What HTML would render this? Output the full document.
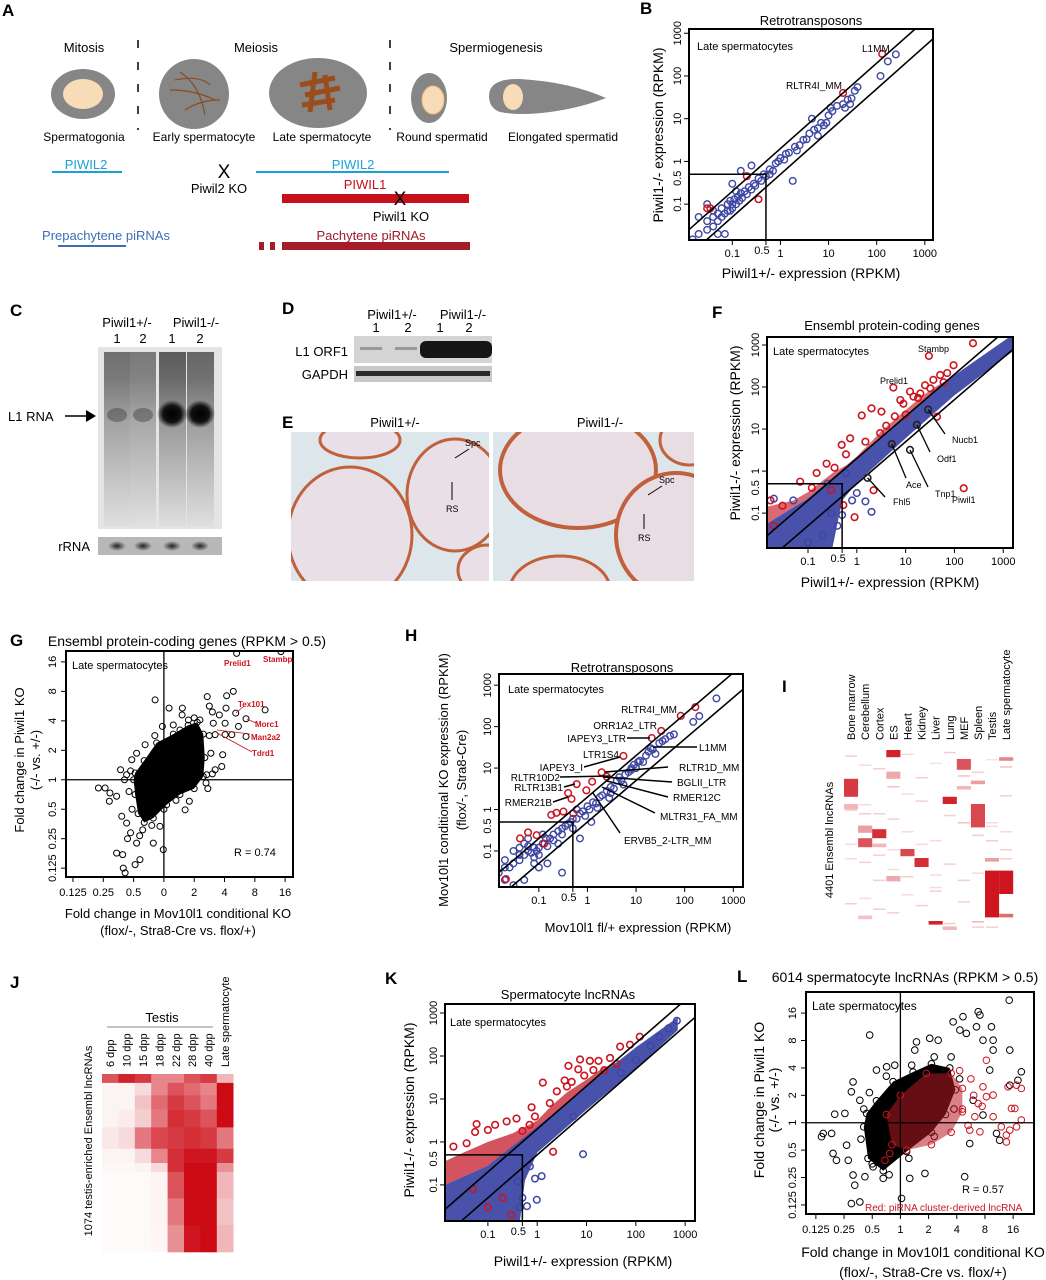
<!DOCTYPE html>
<html><head><meta charset="utf-8"><style>
html,body{margin:0;padding:0;background:#fff;}
svg{display:block;font-family:"Liberation Sans",Arial,sans-serif;}
</style></head><body>
<svg id="fig" xmlns="http://www.w3.org/2000/svg" width="1046" height="1280" viewBox="0 0 1046 1280">
<defs>
<linearGradient id="laneG" x1="0" y1="0" x2="0" y2="1">
<stop offset="0" stop-color="#222"/><stop offset="0.15" stop-color="#333"/><stop offset="0.4" stop-color="#777"/><stop offset="0.7" stop-color="#aaa"/><stop offset="1" stop-color="#ddd"/></linearGradient>
<radialGradient id="bandG"><stop offset="0" stop-color="#000"/><stop offset="0.6" stop-color="#111"/><stop offset="1" stop-color="#111" stop-opacity="0"/></radialGradient>
<radialGradient id="rrnaG"><stop offset="0" stop-color="#222"/><stop offset="1" stop-color="#222" stop-opacity="0"/></radialGradient>
<clipPath id="eL"><rect x="291" y="432" width="198" height="149"/></clipPath>
<clipPath id="eR"><rect x="493" y="432" width="201" height="149"/></clipPath>
</defs>

<!-- Panel A -->
<g font-size="13">
<text x="2" y="16" font-size="17" font-weight="bold">A</text>
<text x="84" y="52" text-anchor="middle">Mitosis</text>
<text x="256" y="52" text-anchor="middle">Meiosis</text>
<text x="496" y="52" text-anchor="middle">Spermiogenesis</text>
<line x1="138" y1="40" x2="138" y2="130" stroke="#000" stroke-width="1.5" stroke-dasharray="8,14"/>
<line x1="390" y1="40" x2="390" y2="130" stroke="#000" stroke-width="1.5" stroke-dasharray="8,14"/>
<g><ellipse cx="83" cy="94" rx="32" ry="25" fill="#868686"/><ellipse cx="83" cy="94" rx="20" ry="15" fill="#f8dcb8"/></g>
<g><ellipse cx="194" cy="94" rx="35" ry="35" fill="#868686"/>
<path d="M180 72 Q200 85 205 115 M170 90 Q195 90 215 100 M185 110 Q200 100 220 100 M175 80 Q200 75 210 85" stroke="#8b4a1e" stroke-width="1.2" fill="none"/></g>
<g><ellipse cx="318" cy="93" rx="49" ry="35" fill="#868686"/>
<path d="M300 85 L335 78 M305 95 L340 88 M315 72 L310 112 M325 75 L330 110 M302 105 L335 100" stroke="#9a4d1a" stroke-width="5" fill="none"/></g>
<g><ellipse cx="429" cy="98" rx="18" ry="25" fill="#868686"/><ellipse cx="433" cy="100" rx="11" ry="14" fill="#f8dcb8" stroke="#e9b97a"/></g>
<g><path d="M489 96 Q489 78 520 79 Q570 82 606 98 Q580 108 550 112 Q520 116 500 112 Q489 108 489 96 Z" fill="#868686"/><ellipse cx="513" cy="97" rx="10" ry="13" fill="#f8dcb8"/></g>
<text x="84" y="141" text-anchor="middle" font-size="12">Spermatogonia</text>
<text x="204" y="141" text-anchor="middle" font-size="12">Early spermatocyte</text>
<text x="322" y="141" text-anchor="middle" font-size="12">Late spermatocyte</text>
<text x="442" y="141" text-anchor="middle" font-size="12">Round spermatid</text>
<text x="563" y="141" text-anchor="middle" font-size="12">Elongated spermatid</text>
<text x="86" y="169" text-anchor="middle" fill="#1ba0d8">PIWIL2</text>
<line x1="52" y1="172" x2="122" y2="172" stroke="#1ba0d8" stroke-width="2"/>
<text x="224" y="178" text-anchor="middle" font-size="19">X</text>
<text x="219" y="193" text-anchor="middle">Piwil2 KO</text>
<text x="353" y="169" text-anchor="middle" fill="#1ba0d8">PIWIL2</text>
<line x1="256" y1="172" x2="449" y2="172" stroke="#1ba0d8" stroke-width="2"/>
<text x="365" y="189" text-anchor="middle" fill="#c8101a">PIWIL1</text>
<rect x="282" y="194" width="187" height="9" fill="#c8101a"/>
<text x="400" y="205" text-anchor="middle" font-size="19">X</text>
<text x="401" y="221" text-anchor="middle">Piwil1 KO</text>
<text x="106" y="240" text-anchor="middle" fill="#3c6eb4">Prepachytene piRNAs</text>
<line x1="58" y1="246" x2="126" y2="246" stroke="#3c6eb4" stroke-width="2"/>
<text x="371" y="240" text-anchor="middle" fill="#a01a28">Pachytene piRNAs</text>
<rect x="259" y="242" width="5" height="8" fill="#a51c2a"/>
<rect x="270" y="242" width="5" height="8" fill="#a51c2a"/>
<rect x="282" y="242" width="188" height="8" fill="#a51c2a"/>
</g>

<!-- Panel C -->
<g>
<text x="10" y="316" font-size="17" font-weight="bold">C</text>
<text x="127" y="327" text-anchor="middle" font-size="13">Piwil1+/-</text>
<text x="196" y="327" text-anchor="middle" font-size="13">Piwil1-/-</text>
<text x="117" y="343" text-anchor="middle" font-size="13">1</text>
<text x="143" y="343" text-anchor="middle" font-size="13">2</text>
<text x="172" y="343" text-anchor="middle" font-size="13">1</text>
<text x="200" y="343" text-anchor="middle" font-size="13">2</text>
<g>
<rect x="98" y="347" width="124" height="182" fill="#e4e4e4"/>
<rect x="104" y="352" width="26" height="175" fill="url(#laneG)" opacity="0.6"/>
<rect x="130" y="352" width="26" height="175" fill="url(#laneG)" opacity="0.55"/>
<rect x="159" y="352" width="27" height="175" fill="url(#laneG)" opacity="0.7"/>
<rect x="187" y="352" width="27" height="175" fill="url(#laneG)" opacity="0.65"/>
<ellipse cx="117" cy="415" rx="10" ry="7" fill="#333" opacity="0.4"/>
<ellipse cx="143" cy="415" rx="10" ry="7" fill="#333" opacity="0.4"/>
<ellipse cx="172" cy="414" rx="15" ry="14" fill="url(#bandG)"/>
<ellipse cx="200" cy="414" rx="15" ry="14" fill="url(#bandG)"/>
</g>
<text x="8" y="421" font-size="13">L1 RNA</text>
<line x1="65" y1="416" x2="86" y2="416" stroke="#000" stroke-width="1.5"/>
<polygon points="86,410 96,416 86,422" fill="#000"/>
<g>
<rect x="98" y="537" width="124" height="18" fill="#b8b8b8"/>
<ellipse cx="117" cy="546" rx="9" ry="5" fill="url(#rrnaG)"/><ellipse cx="143" cy="546" rx="9" ry="5" fill="url(#rrnaG)"/>
<ellipse cx="172" cy="546" rx="9" ry="5" fill="url(#rrnaG)"/><ellipse cx="200" cy="546" rx="9" ry="5" fill="url(#rrnaG)"/>
</g>
<text x="90" y="551" text-anchor="end" font-size="13">rRNA</text>
</g>

<!-- Panel D -->
<g font-size="13">
<text x="282" y="314" font-size="17" font-weight="bold">D</text>
<text x="392" y="319" text-anchor="middle">Piwil1+/-</text>
<text x="463" y="319" text-anchor="middle">Piwil1-/-</text>
<text x="376" y="332" text-anchor="middle">1</text>
<text x="408" y="332" text-anchor="middle">2</text>
<text x="440" y="332" text-anchor="middle">1</text>
<text x="469" y="332" text-anchor="middle">2</text>
<g><rect x="354" y="336" width="138" height="27" fill="#d4d4d4"/>
<rect x="420" y="341" width="72" height="17" rx="6" fill="#151515"/>
<rect x="360" y="347" width="22" height="3" fill="#999"/><rect x="395" y="347" width="22" height="3" fill="#999"/></g>
<g><rect x="354" y="366" width="138" height="16" fill="#c8c8c8"/><rect x="356" y="371" width="134" height="5" fill="#2a2a2a"/></g>
<text x="348" y="356" text-anchor="end">L1 ORF1</text>
<text x="348" y="379" text-anchor="end">GAPDH</text>
</g>

<!-- Panel E -->
<g>
<text x="282" y="428" font-size="17" font-weight="bold">E</text>
<text x="395" y="427" text-anchor="middle" font-size="13">Piwil1+/-</text>
<text x="600" y="427" text-anchor="middle" font-size="13">Piwil1-/-</text>
<g clip-path="url(#eL)">
<rect x="291" y="432" width="198" height="149" fill="#dde6ea"/>
<ellipse cx="350" cy="535" rx="62" ry="68" fill="#e8e0e6" stroke="#c0603c" stroke-width="3"/>
<ellipse cx="360" cy="440" rx="40" ry="18" fill="#e8e0e6" stroke="#c0603c" stroke-width="3"/>
<ellipse cx="455" cy="495" rx="48" ry="56" fill="#e8e0e6" stroke="#c0603c" stroke-width="3"/>
<ellipse cx="488" cy="570" rx="30" ry="25" fill="#e8e0e6" stroke="#c0603c" stroke-width="3"/>
</g>
<g clip-path="url(#eR)">
<rect x="493" y="432" width="201" height="149" fill="#dde6ea"/>
<ellipse cx="578" cy="470" rx="78" ry="58" fill="#e9dde4" stroke="#c0603c" stroke-width="4"/>
<ellipse cx="676" cy="535" rx="60" ry="62" fill="#e9dde4" stroke="#c0603c" stroke-width="4"/>
<ellipse cx="560" cy="590" rx="50" ry="34" fill="#e9dde4" stroke="#c0603c" stroke-width="3"/>
<ellipse cx="690" cy="440" rx="30" ry="25" fill="#e9dde4" stroke="#c0603c" stroke-width="3"/>
</g>
<g font-size="9">
<text x="465" y="446">Spc</text><line x1="469" y1="449" x2="455" y2="458" stroke="#000"/>
<line x1="452" y1="482" x2="452" y2="500" stroke="#000"/><text x="446" y="512">RS</text>
<text x="659" y="483">Spc</text><line x1="662" y1="486" x2="648" y2="495" stroke="#000"/>
<line x1="644" y1="514" x2="644" y2="529" stroke="#000"/><text x="638" y="541">RS</text>
</g>
</g>

<g id="charts"></g>
</svg>

<script>
const NS='http://www.w3.org/2000/svg';
const root=document.getElementById('charts');
function mk(tag,parent,attrs){const e=document.createElementNS(NS,tag);for(const k in attrs)e.setAttribute(k,attrs[k]);parent.appendChild(e);return e;}
function txt(parent,x,y,s,attrs){const t=mk('text',parent,Object.assign({x:x,y:y},attrs||{}));t.textContent=s;return t;}

/* ===== DATA ===== */
// Panel B (RPKM)
const bBlueX=[0.015,0.02,0.03,0.03,0.04,0.04,0.05,0.05,0.06,0.06,0.07,0.08,0.08,0.09,0.1,0.1,0.11,0.12,0.13,0.14,0.15,0.16,0.18,0.2,0.22,0.25,0.28,0.3,0.35,0.4,0.45,0.5,0.6,0.7,0.8,0.9,1,1.2,1.5,1.8,2,2.5,3,3.5,4,4.5,5,6,7,8,10,11,12,20,22,25,30,35,40,120,170,250,0.03,0.1,0.15,0.05,0.07,0.02,0.04,0.09,0.12,0.25,0.6,1.3,2.2,6,9,15,28];
const bBlueY=[0.015,0.02,0.025,0.04,0.03,0.05,0.04,0.06,0.05,0.08,0.06,0.1,0.07,0.12,0.08,0.1,0.13,0.1,0.15,0.12,0.18,0.14,0.2,0.17,0.25,0.22,0.3,0.27,0.4,0.35,0.5,0.45,0.65,0.6,0.9,1.0,1.2,1.1,1.6,0.35,2.2,2.4,3.2,3.3,4.5,10,5.5,6,8,7,12,18,15,22,18,28,30,45,55,100,220,320,0.1,0.3,0.6,0.02,0.02,0.05,0.07,0.07,0.2,0.8,0.5,1.5,1.8,4,8,20,22];
const bRedX=[0.2,0.35,0.03,0.035,20,130];
const bRedY=[0.45,0.13,0.08,0.08,40,330];

// Panel F
const fBandX=[-1.84,-1,0,1,2,3.2,3.2,2,1,0,-0.3,-0.5,-1.84];
const fBandY=[-1.25,-0.65,0.32,1.3,2.28,3.25,2.85,1.8,0.78,-0.28,-0.7,-1.83,-1.83];
const fRedCloudX=[-1.84,-1.3,-1,-0.5,-0.2,0,0.3,0.5,0.8,1,1.3,1.6,1.9,2.0,1,0,-1,-1.84];
const fRedCloudY=[-0.85,-0.7,-0.5,-0.05,0.15,0.35,0.7,0.95,1.25,1.45,1.75,2.0,2.2,2.2,1.25,0.3,-0.65,-1.25];
const fRedX=[96,71,51,37,32,12.3,14.5,7.8,3.2,2,1.26,0.73,0.49,0.24,0.069,0.017,0.53,2.2,44,30,5.6,155,240,0.03,0.02,0.15,0.3,0.9,20,25,9,10,4,3,1.5,0.6,0.35,0.12,60,18,6];
const fRedY=[330,215,193,148,93,78,59,49,26,31,21,6,4.2,1.5,0.56,0.2,0.155,0.35,19.6,550,97,0.39,1100,0.15,0.05,0.9,0.35,0.08,70,110,40,22,12,8,5,2.5,1.2,0.4,130,55,20];
const fBlueX=[2,1.5,0.5,0.3,0.2,0.8,0.05,0.02,0.4,1,0.1,0.6,0.25];
const fBlueY=[0.107,0.19,0.09,0.1,0.03,0.2,0.2,0.22,0.05,0.3,0.02,0.9,0.5];
const fGeneNames=['Nucb1','Odf1','Ace','Tnp1','Fhl5'];
const fGeneX=[29,17,5.2,12.3,1.66];
const fGeneY=[29,12.6,4.4,3.2,0.69];

// Panel H
const hBlueX=[0.015,0.02,0.02,0.025,0.03,0.03,0.04,0.04,0.05,0.05,0.06,0.06,0.07,0.08,0.08,0.09,0.1,0.1,0.12,0.12,0.14,0.15,0.17,0.2,0.2,0.25,0.3,0.3,0.35,0.4,0.45,0.5,0.6,0.7,0.8,1,1.1,1.3,1.5,1.8,2,2.5,3,3.5,4,5,6,7,8,9,10,12,14,16,18,20,25,30,40,50,60,150,200,450,0.3,0.03,0.05,0.1,0.15,0.7,1.2,0.6,3,4.5,8,11,22,35,0.02,0.04,0.06,0.08,0.25,0.5,0.9,1.6,2.8,5.5];
const hBlueY=[0.03,0.02,0.06,0.04,0.05,0.1,0.06,0.12,0.08,0.15,0.1,0.2,0.09,0.12,0.07,0.1,0.12,0.08,0.15,0.25,0.2,0.13,0.2,0.25,0.18,0.3,0.35,0.25,0.4,0.45,0.5,0.6,0.6,0.8,0.9,1.2,1.0,1.5,1.4,2,2.2,2.8,3.5,3.2,5,5,7,8,9,12,10,15,14,20,25,30,22,40,50,60,65,130,180,480,0.03,0.015,0.02,0.04,0.05,0.2,0.5,1.0,2.5,6,10,14,28,45,0.04,0.08,0.13,0.05,0.15,0.35,0.7,1.1,1.9,4];
const hRedX=[83,166,33,21,5.5,1.95,2.5,0.6,0.4,0.47,1.25,0.95,0.041,0.06,0.09,0.13,0.18,0.32,0.51,0.021,0.23];
const hRedY=[182,295,79,53,19.6,7.9,6.2,4.1,2.5,1.8,4.7,2.9,0.2,0.28,0.24,0.15,0.74,0.89,0.81,0.021,0.83];

// Panel K
const kBandX=[-1.87,-1,0,1,2,2.85,2.85,2,1,0,-0.25,-0.35,-1.87];
const kBandY=[-1.0,-0.55,0.35,1.3,2.2,2.9,2.6,1.7,0.75,-0.25,-0.9,-1.84,-1.84];
const kRedCloudX=[-1.87,-1.5,-1,-0.5,0,0.3,0.6,1,1.3,1.6,1.9,2,1,0,-1,-1.87];
const kRedCloudY=[-0.45,-0.25,0.0,0.2,0.5,0.85,1.15,1.45,1.7,1.85,2.05,2.1,1.2,0.3,-0.55,-1.0];
const kRedX=[120,76,48,17.5,11.7,7.4,4.3,6.8,13.8,1.3,3.6,4,2.5,0.77,0.9,0.38,0.24,0.14,0.1,0.059,0.055,0.037,0.02,2.1,23,41,0.3,0.2,0.1,0.05,0.7,1.8,5,9,0.5,30];
const kRedY=[280,183,165,77,77,83,59,49,47,24,27,19.5,15,6.4,3.9,3.5,3,2.5,1.9,2.6,1.7,0.93,0.78,0.59,47,65,0.02,0.05,0.03,0.08,2.5,8,25,35,1.8,90];
const kBlueX=[8.5,680,460,0.98,1.23,0.9,0.62,5.4,0.71,300,200,0.5,0.4,0.45,100,50];
const kBlueY=[0.52,660,440,0.045,0.16,0.14,0.032,3.9,0.27,280,170,0.05,0.12,0.03,80,40];

// Panel G (log2 fold change)
const gCoreX=[-1.0,-0.95,-0.85,-0.65,-0.35,0.09,0.53,1.0,1.3,1.35,1.3,1.1,0.8,0.31,-0.24,-0.65,-0.95];
const gCoreY=[0.0,-0.5,-1.15,-1.45,-1.3,-0.85,-0.5,-0.3,0.11,0.75,1.55,1.95,1.85,1.55,1.25,0.65,0.23];
const gX=[-2.16,-1.94,-1.78,-1.56,-1.8,-1.43,-1.23,-1.39,-1.23,-1.56,-1.36,-1.34,-1.28,-0.95,-0.79,-0.9,-0.35,-0.02,-0.13,-0.29,0.17,0.61,-0.05,-0.62,-1.06,0.7,0.84,1.43,2.07,2.29,3.34,2.71,2.37,2.05,1.83,1.63,2.02,2.46,2.71,2.24,2.02,1.69,1.94,1.69,1.91,1.41,1.39,1.19,0.81,0.31,0.53,-1.1,-1.2,-0.8,1.5,1.6,-1.15,-1.1,-1.05,-0.7,-0.4,0.0,0.4,1.6,1.55,1.5,1.45,1.0,0.6,-0.3,-0.9,-1.3];
const gY=[-0.28,-0.28,-0.45,-0.56,-0.73,0.34,0.17,-1.24,-1.47,-2.49,-2.54,-3.0,-3.16,-2.88,-2.71,-2.15,-2.15,-2.37,-1.58,2.71,2.43,2.43,1.81,1.19,0.68,-1.02,-0.73,2.82,2.85,3.0,2.37,2.07,2.26,2.43,2.2,1.92,1.92,1.81,1.47,1.53,1.53,1.53,0.85,0.34,0.45,0.17,-0.11,2.03,2.03,1.86,1.69,-1.8,-2.0,-1.9,2.5,2.3,-0.4,0.3,-1.0,-1.7,-1.55,-1.0,-0.7,0.2,0.9,1.5,-0.3,2.1,2.2,1.5,0.9,0.0];
const gRedNames=['Prelid1','Stambp'];
const gRedX=[2.4,3.86];
const gRedY=[4.29,4.35];

// Panel L
const lCoreX=[-1.3,-1.15,-0.61,0.22,1.1,1.6,1.95,1.75,1.1,0.45,-0.26,-0.85,-1.2];
const lCoreY=[-0.15,-1.3,-1.75,-1.05,-0.35,0.3,1.2,2.0,2.15,1.85,1.5,0.8,0.34];
const lRedCoreX=[-0.5,-0.3,0.22,1.1,1.8,2.2,2.2,1.8,0.92,0.0];
const lRedCoreY=[0.3,-0.8,-1.0,-0.8,-0.35,0.4,1.25,1.8,1.8,1.0];
const lBlackX=[3.86,2.76,2.82,1.87,2.22,2.7,3.23,2.11,2.34,2.93,3.29,3.88,3.29,-1.09,0.57,0.51,1.04,1.34,3.17,4.29,4.17,3.88,2.58,2.93,3.41,3.52,2.46,2.28,0.04,0.33,0.87,-0.61,-1.26,-1.68,-1.74,-1.44,-2.74,-2.8,-2.44,-2.39,-2.27,-1.91,-1.97,-1.68,-1.74,-1.44,-2.33,-0.85,-0.49,-0.2,-1.62,-1.85,-0.97,-1.4,-1.3,-1.0,-0.4,0.3,1.2,1.9,2.1,1.8,1.2,0.4,-0.5,-1.1];
const lBlackY=[4.47,4.05,3.93,3.68,3.87,3.5,3.5,3.38,3.26,3.01,3.01,2.65,2.65,3.2,2.95,2.65,3.08,3.01,1.92,1.86,1.55,1.37,0.82,0.28,-0.39,-0.64,-0.76,-1.97,-2.76,-2.03,-1.85,-2.03,-1.97,-1.91,-2.95,-2.89,-0.39,-0.51,-0.39,-1.12,-1.37,-0.82,0.34,1.49,1.13,0.82,0.31,1.92,2.04,2.1,-2.28,-1.37,-1.61,-0.6,0.5,-1.5,-1.9,-1.3,-0.5,0.5,1.6,2.4,2.4,2.1,1.7,1.1];
const lRedX=[3.82,4.12,4.29,3.94,4.06,3.58,3.88,4.12,3.76,3.76,4.29,3.05,2.93,3.05,3.29,2.76,2.82,2.46,3.29,2.64,-0.55,-0.38,2.5,2.6,2.2,2.9,2.4,2.1];
const lRedY=[1.31,1.37,1.25,0.52,0.52,-0.15,-0.27,-0.15,-0.45,-0.7,0.1,2.28,1.31,0.95,1.01,0.7,-0.33,-0.27,0.22,0.22,-1.37,-1.12,1.6,1.0,0.5,0.6,-0.1,1.9];

// Panel I heatmap
const iCols=['Bone marrow','Cerebellum','Cortex','ES','Heart','Kidney','Liver','Lung','MEF','Spleen','Testis','Late spermatocyte'];
const iBlockCol=[3,3,8,0,7,9,1,1,2,4,5,10,11,11,6,0,10,9,3,11,2,7,1,8];
const iBlockStart=[0,0.12,0.05,0.16,0.26,0.3,0.42,0.49,0.44,0.55,0.6,0.67,0.67,0.91,0.95,0.3,0.6,0.17,0.7,0.04,0.52,0.98,0.92,0.2];
const iBlockEnd=[0.04,0.16,0.11,0.26,0.3,0.43,0.46,0.54,0.49,0.59,0.65,0.93,0.8,0.93,0.97,0.33,0.62,0.19,0.73,0.06,0.54,1.0,0.94,0.22];
const iBlockVal=[0.9,0.35,0.7,0.8,0.9,0.75,0.4,0.7,0.85,0.75,0.85,0.95,0.95,0.6,0.9,0.3,0.4,0.4,0.35,0.5,0.3,0.3,0.25,0.3];
const iFaintCol=[0,1,2,3,4,5,6,7,8,9,10,11,0,1,2,3,4,5,6,7,8,9,10,11,0,1,2,3,4,5,6,7,8,9,10,11,0,1,2,3,4,5,6,7,8,9,10,11,0,2,4,6,8,10,1,3,5,7,9,11];
const iFaintPos=[0.03,0.08,0.1,0.2,0.02,0.15,0.07,0.01,0.14,0.12,0.05,0.09,0.33,0.3,0.35,0.38,0.45,0.28,0.5,0.36,0.4,0.47,0.42,0.55,0.6,0.62,0.58,0.66,0.7,0.52,0.69,0.63,0.72,0.68,0.98,0.6,0.85,0.82,0.88,0.9,0.8,0.86,0.76,0.96,0.84,0.95,0.5,0.45,0.52,0.72,0.24,0.78,0.2,0.4,0.35,0.55,0.6,0.26,0.98,0.25];
const iFaintVal=[0.2,0.15,0.2,0.25,0.15,0.2,0.12,0.2,0.25,0.2,0.12,0.25,0.2,0.15,0.2,0.2,0.15,0.2,0.15,0.2,0.25,0.2,0.15,0.2,0.15,0.2,0.2,0.15,0.2,0.15,0.15,0.2,0.2,0.15,0.2,0.2,0.2,0.15,0.2,0.2,0.15,0.2,0.15,0.2,0.2,0.3,0.2,0.15,0.15,0.2,0.15,0.2,0.15,0.15,0.2,0.15,0.2,0.2,0.2,0.2];

// Panel J heatmap
const jCols=['6 dpp','10 dpp','15 dpp','18 dpp','22 dpp','28 dpp','40 dpp','Late spermatocyte'];
const jGroupStart=[0,0.05,0.12,0.2,0.3,0.42,0.5,0.55,0.7,0.85];
const jGroupEnd=[0.05,0.12,0.2,0.3,0.42,0.5,0.55,0.7,0.85,1.0];
const jVals=[
 [0.7,0.9,0.8,0.5,0.5,0.7,0.8,0.3],
 [0.05,0.05,0.15,0.5,0.7,0.6,0.5,1],
 [0.05,0.05,0.25,0.6,0.8,0.7,0.55,1],
 [0.05,0.08,0.2,0.55,0.85,0.8,0.7,1],
 [0.1,0.15,0.55,0.75,0.8,0.85,0.8,0.55],
 [0.05,0.05,0.15,0.5,0.85,0.95,0.95,0.8],
 [0.03,0.03,0.05,0.15,0.85,1,1,0.45],
 [0.02,0.02,0.02,0.05,0.7,1,1,0.3],
 [0.02,0.02,0.02,0.05,0.55,1,1,0.25],
 [0.02,0.02,0.02,0.04,0.45,0.95,1,0.3]];

/* ===== HELPERS ===== */
function heat(v){const r=Math.round(255-51*v),g=Math.round(255-245*v),b=Math.round(255-235*v);return 'rgb('+r+','+g+','+b+')';}
let clipN=0;
function makeAxes(name,box,dom){
  const g=mk('g',root,{});
  
  
  const sx=v=>box.x0+(v-dom.xmin)/(dom.xmax-dom.xmin)*(box.x1-box.x0);
  const sy=v=>box.y1-(v-dom.ymin)/(dom.ymax-dom.ymin)*(box.y1-box.y0);
  const id='clip'+(clipN++);
  const cp=mk('clipPath',g,{id:id});mk('rect',cp,{x:box.x0,y:box.y0,width:box.x1-box.x0,height:box.y1-box.y0});
  const inner=mk('g',g,{'clip-path':'url(#'+id+')'});
  return {g,inner,sx,sy,box,dom};
}
function frame(A){const b=A.box;const r=mk('rect',A.g,{x:b.x0,y:b.y0,width:b.x1-b.x0,height:b.y1-b.y0,fill:'none',stroke:'#000','stroke-width':2});
  
  }
function poly(A,xs,ys,fill,op,name){const pts=xs.map((x,i)=>A.sx(x)+','+A.sy(ys[i])).join(' ');
  const p=mk('polygon',A.inner,{points:pts,fill:fill,'fill-opacity':op});
  
  }
function pts(A,xs,ys,color,r,sw,name,isLog){const gg=mk('g',A.inner,{});
  
  
  xs.forEach((x,i)=>{const c=mk('circle',gg,{cx:A.sx(isLog?Math.log10(x):x),cy:A.sy(isLog?Math.log10(ys[i]):ys[i]),r:r,fill:'none',stroke:color,'stroke-width':sw});
    
    });}
function logDecor(A){const d=A.dom,b=A.box;
  [Math.log10(2),-Math.log10(2)].forEach(o=>{const l=mk('line',A.inner,{x1:A.sx(d.xmin),y1:A.sy(d.xmin+o),x2:A.sx(d.xmax),y2:A.sy(d.xmax+o),stroke:'#000','stroke-width':1.6});
    
    });
  const h=Math.log10(0.5);
  const pl=mk('polyline',A.inner,{points:b.x0+','+A.sy(h)+' '+A.sx(h)+','+A.sy(h)+' '+A.sx(h)+','+b.y1,fill:'none',stroke:'#000','stroke-width':1.5});
  
  
  const tv=[-1,0,1,2,3],tl=['0.1','1','10','100','1000'];
  tv.forEach((v,i)=>{mk('line',A.g,{x1:A.sx(v),y1:b.y1,x2:A.sx(v),y2:b.y1+5,stroke:'#000'});
    const t=txt(A.g,A.sx(v),b.y1+17,tl[i],{'text-anchor':'middle','font-size':11});
    
    
    mk('line',A.g,{x1:b.x0-5,y1:A.sy(v),x2:b.x0,y2:A.sy(v),stroke:'#000'});
    const ty=txt(A.g,b.x0-8,A.sy(v),tl[i],{'text-anchor':'middle','font-size':11,transform:'rotate(-90 '+(b.x0-8)+' '+A.sy(v)+')'});
    
    });
  mk('line',A.g,{x1:A.sx(h),y1:b.y1,x2:A.sx(h),y2:b.y1+5,stroke:'#000'});
  const t5=txt(A.g,A.sx(h)-4,b.y1+14,'0.5',{'text-anchor':'middle','font-size':11});
  
  
  const y5=txt(A.g,b.x0-8,A.sy(h)+4,'0.5',{'text-anchor':'middle','font-size':11,transform:'rotate(-90 '+(b.x0-8)+' '+(A.sy(h)+4)+')'});
  
  
}
function log2Decor(A,xl,yl){const b=A.box;
  const vl=mk('line',A.g,{x1:A.sx(0),y1:b.y0,x2:A.sx(0),y2:b.y1,stroke:'#000','stroke-width':1.3});
  
  
  const hl=mk('line',A.g,{x1:b.x0,y1:A.sy(0),x2:b.x1,y2:A.sy(0),stroke:'#000','stroke-width':1.3});
  
  
  for(let v=-3;v<=4;v++){const i=v+3;
    mk('line',A.g,{x1:A.sx(v),y1:b.y1,x2:A.sx(v),y2:b.y1+5,stroke:'#000'});
    const t=txt(A.g,A.sx(v),b.y1+19,xl[i],{'text-anchor':'middle','font-size':11});
    
    
    mk('line',A.g,{x1:b.x0-5,y1:A.sy(v),x2:b.x0,y2:A.sy(v),stroke:'#000'});
    const ty=txt(A.g,b.x0-10,A.sy(v),yl[i],{'text-anchor':'middle','font-size':11,transform:'rotate(-90 '+(b.x0-10)+' '+A.sy(v)+')'});
    
    }
}
function label(x,y,s,name,attrs){const t=txt(root,x,y,s,attrs);
  
  return t;}
function vlabel(x,y,s,name,size){const t=txt(root,x,y,s,{'text-anchor':'middle','font-size':size,transform:'rotate(-90 '+x+' '+y+')'});
  
  return t;}
function lead(x1,y1,x2,y2,col,w){const l=mk('line',root,{x1,y1,x2,y2,stroke:col||'#000','stroke-width':w||1.5});
  
  }
const BLUE='#3d47a3',RED='#cc1420';

/* ===== B ===== */
(function(){const A=makeAxes('panel-b-scatter',{x0:689,x1:933,y0:29,y1:240},{xmin:-1.9,xmax:3.17,ymin:-1.84,ymax:3.1});
 pts(A,bBlueX,bBlueY,BLUE,3.3,1.4,'blue-points',true);
 pts(A,bRedX,bRedY,RED,3.3,1.5,'red-points',true);
 logDecor(A);frame(A);
 label(640,14,'B','panel-label-b',{'font-size':17,'font-weight':'bold'});
 label(811,25,'Retrotransposons','b-title',{'text-anchor':'middle','font-size':13});
 label(697,50,'Late spermatocytes','b-subtitle',{'font-size':11});
 label(862,52,'L1MM','b-label-l1mm',{'font-size':10});
 label(786,89,'RLTR4I_MM','b-label-rltr4i',{'font-size':10});
 label(811,278,'Piwil1+/- expression (RPKM)','b-x-title',{'text-anchor':'middle','font-size':14});
 vlabel(663,135,'Piwil1-/- expression (RPKM)','b-y-title',14);
})();

/* ===== F ===== */
(function(){const A=makeAxes('panel-f-scatter',{x0:767,x1:1013,y0:337,y1:548},{xmin:-1.84,xmax:3.2,ymin:-1.83,ymax:3.19});
 poly(A,fRedCloudX,fRedCloudY,'#c41a2a',0.65,'red-cloud');
 poly(A,fBandX,fBandY,'#4852aa',1,'blue-band');
 pts(A,fBlueX,fBlueY,BLUE,3.3,1.5,'blue-points',true);
 pts(A,fRedX,fRedY,RED,3.3,1.6,'red-points',true);
 logDecor(A);
 pts(A,fGeneX,fGeneY,'#222',3.3,1.6,'labeled-genes',true);
 frame(A);
 const lp=[[945,434,952,440],[930,452,937,459],[906,478,906,485],[928,487,935,494],[885,497,893,502]];
 fGeneNames.forEach((n,i)=>{lead(A.sx(Math.log10(fGeneX[i])),A.sy(Math.log10(fGeneY[i])),lp[i][0],lp[i][1],'#000',1.3);
   label(lp[i][2],lp[i][3]+3,n,'f-gene-label',{'font-size':9});});
 label(712,318,'F','panel-label-f',{'font-size':17,'font-weight':'bold'});
 label(892,330,'Ensembl protein-coding genes','f-title',{'text-anchor':'middle','font-size':13});
 label(773,355,'Late spermatocytes','f-subtitle',{'font-size':11});
 label(918,352,'Stambp','f-label-stambp',{'font-size':9});
 label(880,384,'Prelid1','f-label-prelid1',{'font-size':9});
 label(952,503,'Piwil1','f-label-piwil1',{'font-size':9});
 label(890,587,'Piwil1+/- expression (RPKM)','f-x-title',{'text-anchor':'middle','font-size':14});
 vlabel(740,433,'Piwil1-/- expression (RPKM)','f-y-title',14);
})();

/* ===== G ===== */
(function(){const A=makeAxes('panel-g-scatter',{x0:66,x1:293,y0:651,y1:877},{xmin:-3.23,xmax:4.26,ymin:-3.3,ymax:4.37});
 poly(A,gCoreX,gCoreY,'#000',1,'dense-core');
 pts(A,gCoreX,gCoreY,'#000',3,1,'core-edge-points',false);
 pts(A,gX,gY,'#000',3,1,'points',false);
 pts(A,gRedX,gRedY,'#000',3,1,'labeled-points',false);
 log2Decor(A,['0.125','0.25','0.5','0','2','4','8','16'],['0.125','0.25','0.5','1','2','4','8','16']);
 frame(A);
 label(10,646,'G','panel-label-g',{'font-size':17,'font-weight':'bold'});
 label(187,646,'Ensembl protein-coding genes (RPKM > 0.5)','g-title',{'text-anchor':'middle','font-size':14});
 label(72,669,'Late spermatocytes','g-subtitle',{'font-size':11});
 label(224,666,'Prelid1','g-label-prelid1',{'font-size':8,fill:RED,'font-weight':'bold'});
 label(263,662,'Stambp','g-label-stambp',{'font-size':8,fill:RED,'font-weight':'bold'});
 label(238,707,'Tex101','g-label-tex101',{'font-size':8,fill:RED,'font-weight':'bold'});
 label(255,727,'Morc1','g-label-morc1',{'font-size':8,fill:RED,'font-weight':'bold'});
 label(251,740,'Man2a2','g-label-man2a2',{'font-size':8,fill:RED,'font-weight':'bold'});
 label(252,756,'Tdrd1','g-label-tdrd1',{'font-size':8,fill:RED,'font-weight':'bold'});
 lead(236,713,244,706,RED,0.8);lead(247,719,256,723,RED,0.8);lead(217,730,250,734,RED,0.8);lead(217,733,252,752,RED,0.8);
 label(234,856,'R = 0.74','g-r-value',{'font-size':11});
 label(178,918,'Fold change in Mov10l1 conditional KO','g-x-title',{'text-anchor':'middle','font-size':13});
 label(178,935,'(flox/-, Stra8-Cre vs. flox/+)','g-x-subtitle',{'text-anchor':'middle','font-size':13});
 vlabel(24,760,'Fold change in Piwil1 KO','g-y-title',13);
 vlabel(40,760,'(-/- vs. +/-)','g-y-subtitle',13);
})();

/* ===== H ===== */
(function(){const A=makeAxes('panel-h-scatter',{x0:499,x1:743,y0:674,y1:887},{xmin:-1.82,xmax:3.2,ymin:-1.87,ymax:3.27});
 pts(A,hBlueX,hBlueY,BLUE,3.3,1.4,'blue-points',true);
 pts(A,hRedX,hRedY,RED,3.3,1.5,'red-points',true);
 logDecor(A);frame(A);
 label(405,641,'H','panel-label-h',{'font-size':17,'font-weight':'bold'});
 label(622,672,'Retrotransposons','h-title',{'text-anchor':'middle','font-size':13});
 label(508,693,'Late spermatocytes','h-subtitle',{'font-size':11});
 const L=[['RLTR4I_MM',677,713,'end'],['ORR1A2_LTR',657,729,'end'],['IAPEY3_LTR',626,742,'end'],['LTR1S4',619,758,'end'],['IAPEY3_I',583,771,'end'],['RLTR10D2',560,781,'end'],['RLTR13B1',563,791,'end'],['RMER21B',552,806,'end'],
   ['L1MM',699,751,'start'],['RLTR1D_MM',679,771,'start'],['BGLII_LTR',677,786,'start'],['RMER12C',673,801,'start'],['MLTR31_FA_MM',660,820,'start'],['ERVB5_2-LTR_MM',624,844,'start']];
 L.forEach(l=>label(l[1],l[2],l[0],'h-label',{'font-size':10,'text-anchor':l[3]}));
 lead(627,738,650,738);lead(584,767,620,757);lead(560,777,610,776);lead(564,787,575,784);lead(553,802,568,797);
 lead(653,747,697,747);lead(605,772,668,767);lead(603,777,672,782);lead(607,781,668,797);lead(602,787,655,813);lead(593,793,620,833);
 label(638,932,'Mov10l1 fl/+ expression (RPKM)','h-x-title',{'text-anchor':'middle','font-size':13});
 vlabel(448,780,'Mov10l1 conditional KO expression (RPKM)','h-y-title',13);
 vlabel(466,780,'(flox/-, Stra8-Cre)','h-y-subtitle',13);
})();

/* ===== I ===== */
(function(){const g=mk('g',root,{});
 
 
 const x0=844,cw=14.1,y0=750,H=180;
 iFaintCol.forEach((c,i)=>{const r=mk('rect',g,{x:x0+c*cw+1,y:y0+iFaintPos[i]*H,width:cw-2,height:1.5,fill:heat(iFaintVal[i])});
   
   });
 iBlockCol.forEach((c,i)=>{const r=mk('rect',g,{x:x0+c*cw,y:y0+iBlockStart[i]*H,width:cw,height:(iBlockEnd[i]-iBlockStart[i])*H,fill:heat(iBlockVal[i])});
   
   });
 iCols.forEach((n,i)=>{const x=x0+i*cw+cw/2+4;const t=txt(g,x,740,n,{'font-size':11,transform:'rotate(-90 '+x+' 740)'});
   
   });
 label(782,692,'I','panel-label-i',{'font-size':17,'font-weight':'bold'});
 vlabel(833,840,'4401 Ensembl lncRNAs','i-row-label',11);
})();

/* ===== J ===== */
(function(){const g=mk('g',root,{});
 
 
 const x0=102,cw=16.4,y0=1074,H=178;
 jGroupStart.forEach((s,gi)=>{jVals[gi].forEach((v,c)=>{const r=mk('rect',g,{x:x0+c*cw,y:y0+s*H,width:cw+0.3,height:(jGroupEnd[gi]-s)*H+0.3,fill:heat(v)});
   
   });});
 jCols.forEach((n,i)=>{const x=x0+i*cw+cw/2+4;const t=txt(g,x,1067,n,{'font-size':11,transform:'rotate(-90 '+x+' 1067)'});
   
   });
 label(10,988,'J','panel-label-j',{'font-size':17,'font-weight':'bold'});
 label(162,1022,'Testis','j-group-label',{'text-anchor':'middle','font-size':13});
 lead(107,1027,213,1027,'#888',1);
 vlabel(92,1141,'1074 testis-enriched Ensembl lncRNAs','j-row-label',11);
})();

/* ===== K ===== */
(function(){const A=makeAxes('panel-k-scatter',{x0:445,x1:695,y0:1004,y1:1221},{xmin:-1.87,xmax:3.2,ymin:-1.84,ymax:3.21});
 poly(A,kRedCloudX,kRedCloudY,'#c41a2a',0.75,'red-cloud');
 poly(A,kBandX,kBandY,'#4852aa',1,'blue-band');
 pts(A,kBlueX,kBlueY,BLUE,3.3,1.5,'blue-points',true);
 pts(A,kRedX,kRedY,RED,3.3,1.6,'red-points',true);
 logDecor(A);frame(A);
 label(385,984,'K','panel-label-k',{'font-size':17,'font-weight':'bold'});
 label(568,999,'Spermatocyte lncRNAs','k-title',{'text-anchor':'middle','font-size':13});
 label(450,1026,'Late spermatocytes','k-subtitle',{'font-size':11});
 label(583,1266,'Piwil1+/- expression (RPKM)','k-x-title',{'text-anchor':'middle','font-size':14});
 vlabel(414,1110,'Piwil1-/- expression (RPKM)','k-y-title',14);
})();

/* ===== L ===== */
(function(){const A=makeAxes('panel-l-scatter',{x0:806,x1:1034,y0:992,y1:1214},{xmin:-3.35,xmax:4.74,ymin:-3.33,ymax:4.77});
 poly(A,lCoreX,lCoreY,'#000',1,'dense-core');
 pts(A,lCoreX,lCoreY,'#000',3.3,1,'core-edge-points',false);
 pts(A,lBlackX,lBlackY,'#000',3.3,1,'black-points',false);
 poly(A,lRedCoreX,lRedCoreY,'#b81a22',0.55,'red-core');
 pts(A,lRedCoreX,lRedCoreY,RED,3.3,1,'red-core-edge',false);
 pts(A,lRedX,lRedY,RED,3.3,1,'red-points',false);
 log2Decor(A,['0.125','0.25','0.5','1','2','4','8','16'],['0.125','0.25','0.5','1','2','4','8','16']);
 frame(A);
 label(737,982,'L','panel-label-l',{'font-size':17,'font-weight':'bold'});
 label(905,982,'6014 spermatocyte lncRNAs (RPKM > 0.5)','l-title',{'text-anchor':'middle','font-size':14});
 label(812,1010,'Late spermatocytes','l-subtitle',{'font-size':12});
 label(983,1193,'R = 0.57','l-r-value',{'font-size':11,'text-anchor':'middle'});
 label(865,1211,'Red: piRNA cluster-derived lncRNA','l-legend',{'font-size':10,fill:RED});
 label(923,1257,'Fold change in Mov10l1 conditional KO','l-x-title',{'text-anchor':'middle','font-size':14});
 label(923,1277,'(flox/-, Stra8-Cre vs. flox/+)','l-x-subtitle',{'text-anchor':'middle','font-size':14});
 vlabel(764,1100,'Fold change in Piwil1 KO','l-y-title',14);
 vlabel(779,1100,'(-/- vs. +/-)','l-y-subtitle',14);
})();
</script>
</body></html>
